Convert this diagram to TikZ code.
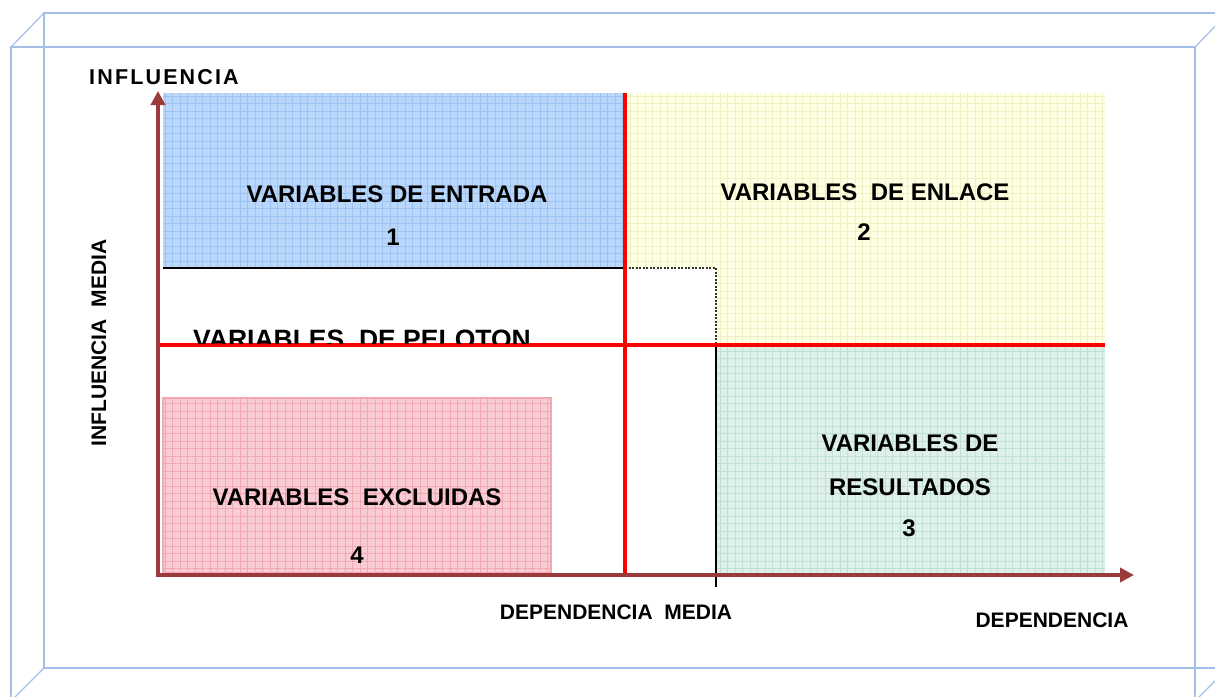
\documentclass[tikz,border=0pt]{standalone}
\usepackage{fontspec}
\setmainfont{Liberation Sans}
\usetikzlibrary{arrows.meta,patterns.meta}

\definecolor{frameblue}{HTML}{A3BFE8}
\definecolor{axisred}{HTML}{9B3A3A}
\definecolor{bluefill}{HTML}{B8D7FA}
\definecolor{bluegrid}{HTML}{9CC3F2}
\definecolor{yellowfill}{HTML}{FFFFE3}
\definecolor{yellowgrid}{HTML}{F0F0C4}
\definecolor{greenfill}{HTML}{DEF0EA}
\definecolor{greengrid}{HTML}{C2DFD5}
\definecolor{pinkfill}{HTML}{F9CCD3}
\definecolor{pinkgrid}{HTML}{F0A8B3}

\begin{document}
\begin{tikzpicture}[x=1pt, y=-1pt,
  lbl/.style={font=\fontsize{24}{28}\selectfont\bfseries, inner sep=0pt},
  axlbl/.style={font=\fontsize{21}{25}\selectfont\bfseries, inner sep=0pt},
  axis/.style={axisred, line width=4pt, line cap=rect, -{Triangle[length=14pt,width=14pt]}},
  mid/.style={red, line width=4pt},
  cube/.style={frameblue, line width=1.2pt},
  tiles/.style={pattern={Hatch[angle=0, distance=7.5pt, line width=0.6pt]}, pattern color=#1}]
\useasboundingbox (0,0) rectangle (1215,696);

% wire frame box
\draw[cube] (11,47) rectangle (1195,701);
\draw[cube] (44,13) rectangle (1228,668);
\draw[cube] (11,47) -- (44,13) (1195,47) -- (1228,13)
  (11,701) -- (44,668) (1195,701) -- (1228,668);

% quadrants
\fill[bluefill] (163,93) rectangle (625,268);
\fill[tiles=bluegrid] (163,93) rectangle (625,268);
\fill[yellowfill] (625,93) rectangle (1105,268) (716,268) rectangle (1105,345);
\fill[tiles=yellowgrid] (625,93) rectangle (1105,268) (716,268) rectangle (1105,345);
\fill[greenfill] (716,345) rectangle (1105,573);
\fill[tiles=greengrid] (716,345) rectangle (1105,573);
\fill[pinkfill] (163,398) rectangle (551,573);
\fill[tiles=pinkgrid] (163,398) rectangle (551,573);
\draw[pinkgrid, line width=1.5pt] (163,398) rectangle (551,573);

\draw[black, line width=1.5pt] (163,268) -- (625,268);
\draw[gray!40!black, line width=2pt, dash pattern=on 2pt off 1.5pt] (625,268) -| (716,345);
\draw[black, line width=1.5pt] (716,345) -- (716,587);

% medias
\draw[mid] (625,93) -- (625,575);
\draw[mid] (158,345) -- (1105,345);

% axes
\coordinate (o) at (158,575);
\coordinate (ytop) at (158,91);
\coordinate (xend) at (1134,575);
\draw[axis] (o) -- (ytop);
\draw[axis] (o) -- (xend);

\node[lbl] (entrada) at (397,194) {VARIABLES DE ENTRADA};
\node[lbl] (n1) at (393,237) {1};
\node[lbl] (enlace) at (865,192) {VARIABLES\ \ DE ENLACE};
\node[lbl] (n2) at (864,232) {2};
\node[lbl, align=center, font=\fontsize{24}{44}\selectfont\bfseries] (resultados) at (910,465) {VARIABLES DE\\RESULTADOS};
\node[lbl] (n3) at (909,528) {3};
\node[lbl] (excluidas) at (357,497) {VARIABLES\ \ EXCLUIDAS};
\node[lbl] (n4) at (357,555) {4};
\begin{scope}
  \clip (160,300) rectangle (623,343);
  \node[lbl, anchor=north, font=\fontsize{26.5}{30}\selectfont\bfseries] (peloton) at (362,330) {VARIABLES\ \ DE PELOTON};
\end{scope}

\node[axlbl, font=\fontsize{21.5}{25}\selectfont\bfseries] (infl) at (164,77) {\addfontfeature{LetterSpace=10}INFLUENCIA};
\node[axlbl, rotate=90] (inflmedia) at (99,343) {INFLUENCIA\ \ MEDIA};
\node[axlbl] (depmedia) at (616,612) {DEPENDENCIA\ \ MEDIA};
\node[axlbl] (dep) at (1052,620) {DEPENDENCIA};
\end{tikzpicture}
\end{document}
